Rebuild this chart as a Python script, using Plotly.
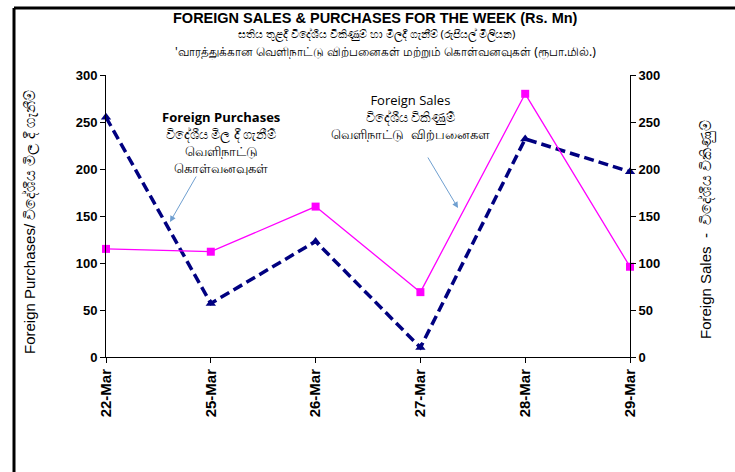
import plotly.graph_objects as go

dates = ["22-Mar", "25-Mar", "26-Mar", "27-Mar", "28-Mar", "29-Mar"]
purchases = [255, 57, 123, 10, 232, 197]
sales = [115, 112, 160, 69, 280, 96]
yticks = [0, 50, 100, 150, 200, 250, 300]

title1 = "FOREIGN SALES & PURCHASES FOR THE WEEK (Rs. Mn)"
title2 = "සතිය තුළදී විදේශීය විකිණුම් හා මිලදී ගැනීම් (රුපියල් මිලියන)"
title3 = "'வாரத்துக்கான வெளிநாட்டு விற்பனைகள் மற்றும் கொள்வனவுகள் (ரூபா.மில்.)"
left_label = "Foreign Purchases/ විදේශීය මිල දී ගැනීම්"
right_label = "Foreign Sales  -  විදේශීය විකිණුම්"
purch_note = "<b>Foreign Purchases</b><br>විදේශීය මිල දී ගැනීම්<br>வெளிநாட்டு<br>கொள்வனவுகள்"
sales_note = "Foreign Sales<br>විදේශීය විකිණුම්<br>வெளிநாட்டு  விற்பனைகள"

W, H = 735, 472
L, R, T, B = 106, 105, 75, 115
pw, ph = W - L - R, H - T - B

def px(x):
    return (x - L) / pw

def py(y):
    return (H - B - y) / ph

fig = go.Figure()
fig.add_trace(go.Scatter(
    x=list(range(len(dates))), y=purchases, mode="lines+markers", name="Foreign Purchases",
    line=dict(color="#000080", width=3.5, dash="10px,5px"),
    marker=dict(symbol="triangle-up", size=9, color="#000080"),
    cliponaxis=False, yaxis="y"))
fig.add_trace(go.Scatter(
    x=list(range(len(dates))), y=sales, mode="lines+markers", name="Foreign Sales",
    line=dict(color="#ff00ff", width=1.3),
    marker=dict(symbol="square", size=8, color="#ff00ff"),
    cliponaxis=False, yaxis="y2"))

yfont = dict(family="Liberation Sans, Arial", size=13, color="#000000")
xfont = dict(family="Liberation Sans, Arial", size=15, color="#000000")
fig.update_layout(
    width=W, height=H, margin=dict(l=L, r=R, t=T, b=B),
    paper_bgcolor="white", plot_bgcolor="white", showlegend=False,
    xaxis=dict(tickmode="array", tickvals=list(range(len(dates))),
               ticktext=["<b>%s</b>" % d for d in dates],
               range=[0, len(dates) - 1], tickangle=-90, showgrid=False, zeroline=False,
               showline=True, linecolor="black", linewidth=1, ticks="outside",
               ticklen=5, tickcolor="black", tickfont=xfont),
    yaxis=dict(range=[0, 300], tickvals=yticks, ticktext=["<b>%d</b>" % v for v in yticks],
               showgrid=False, zeroline=False, showline=True, linecolor="black", linewidth=1,
               ticks="outside", ticklen=5, tickcolor="black", tickfont=yfont),
    yaxis2=dict(range=[0, 300], tickvals=yticks, ticktext=["<b>%d</b>" % v for v in yticks],
                overlaying="y", side="right", showgrid=False, zeroline=False, showline=True,
                linecolor="black", linewidth=1, ticks="outside", ticklen=5, tickcolor="black",
                tickfont=yfont),
)

ann = []
ann.append(dict(text="<b>%s</b>" % title1, x=px(375), y=py(18), font=dict(family="Liberation Sans, Arial", size=14.5)))
ann.append(dict(text=title2, x=px(376), y=py(34), font=dict(family="Noto Sans, Liberation Sans", size=11.3)))
ann.append(dict(text=title3, x=px(385), y=py(51), font=dict(family="Noto Sans, Liberation Sans", size=12)))
ann.append(dict(text=left_label, x=px(30), y=py(222), textangle=-90,
                font=dict(family="Liberation Sans, Arial", size=15)))
ann.append(dict(text=right_label, x=px(706), y=py(230), textangle=-90,
                font=dict(family="Liberation Sans, Arial", size=15)))
ann.append(dict(text=purch_note, x=px(221), y=py(142), align="center",
                font=dict(family="Open Sans, Noto Sans", size=13)))
ann.append(dict(text=sales_note, x=px(410), y=py(117), align="center",
                font=dict(family="Open Sans, Noto Sans", size=13)))
for a in ann:
    a.update(xref="paper", yref="paper", showarrow=False, xanchor="center", yanchor="middle",
             font=dict(a["font"], color="black"))

ann.append(dict(text="", x=px(170), y=py(222), xref="paper", yref="paper", showarrow=True,
                ax=27, ay=-47, arrowcolor="#6f9fd0", arrowwidth=1, arrowhead=2, arrowsize=1.2))
ann.append(dict(text="", x=px(458), y=py(208), xref="paper", yref="paper", showarrow=True,
                ax=-31, ay=-52, arrowcolor="#6f9fd0", arrowwidth=1, arrowhead=2, arrowsize=1.2))
fig.update_layout(annotations=ann)

# outer frame (left and top thick borders)
fig.add_shape(type="line", xref="paper", yref="paper", x0=px(14), x1=px(14), y0=py(8), y1=py(H),
              line=dict(color="black", width=3))
fig.add_shape(type="line", xref="paper", yref="paper", x0=px(14), x1=px(W), y0=py(8), y1=py(8),
              line=dict(color="black", width=3))

fig.write_html("out.html")
